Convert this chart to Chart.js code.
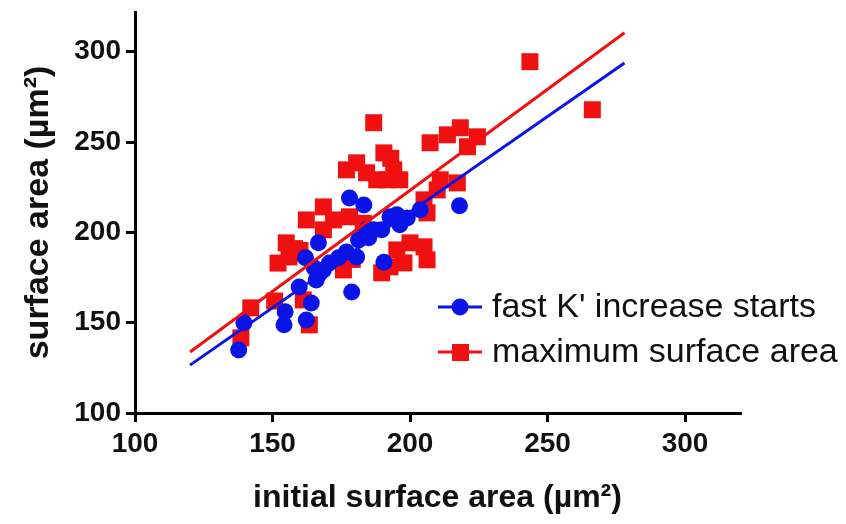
<!DOCTYPE html>
<html>
<head>
<meta charset="utf-8">
<script src="https://cdn.jsdelivr.net/npm/chart.js@4.4.1/dist/chart.umd.min.js"></script>
<style>
  html, body { margin: 0; padding: 0; background: #fff; }
  #wrap { width: 846px; height: 524px; }
</style>
</head>
<body>
<div id="wrap"><canvas id="grafico" width="846" height="524"></canvas></div>
<script>
// fast K' increase starts (blue circles)
const fastX = [137.7, 139.6, 154.2, 154.6, 162.3, 164.1, 159.7, 165.9, 168.5, 170.7,
               162.0, 178.8, 180.6, 190.5, 178.0, 183.2, 166.7, 186.8, 218.0, 203.7,
               192.7, 196.3, 189.7, 165.2, 176.9, 181.3, 184.2, 195.2, 167.0, 174.0,
               185.0, 199.0];
const fastY = [134.9, 149.9, 148.8, 156.0, 151.5, 160.9, 169.8, 173.7, 179.2, 183.1,
               186.0, 167.0, 186.4, 183.5, 219.0, 215.2, 194.2, 201.4, 214.7, 212.5,
               208.6, 204.2, 201.4, 180.3, 189.2, 195.8, 201.4, 209.7, 177.0, 186.0,
               197.0, 208.0];

// maximum surface area (red squares)
const maxX = [138.5, 142.1, 150.8, 163.4, 152.0, 156.0, 175.8, 189.7, 161.2, 186.8,
              176.9, 180.6, 184.2, 187.9, 190.5, 168.5, 162.3, 172.2, 168.5, 155.0,
              157.5, 178.0, 207.3, 213.6, 218.3, 224.5, 220.9, 193.0, 194.1, 191.6,
              196.3, 211.0, 217.2, 209.9, 205.1, 206.2, 200.0, 205.1, 206.2, 195.2,
              192.7, 197.8, 243.6, 266.3, 160.0, 179.0, 183.0, 158.0];
const maxY = [141.6, 158.2, 162.0, 148.8, 183.0, 186.4, 179.2, 177.6, 162.6, 260.7,
              234.6, 238.5, 233.0, 229.1, 244.0, 214.1, 206.9, 206.9, 201.4, 194.2,
              188.6, 208.6, 249.6, 254.0, 257.9, 252.9, 247.4, 241.0, 234.6, 229.1,
              229.1, 229.1, 227.4, 223.5, 218.0, 210.8, 194.2, 192.0, 184.8, 190.3,
              180.9, 183.1, 294.5, 267.9, 190.0, 185.0, 205.0, 191.0];

// linear fits
const fitX = [120, 278];
const fastFitY = [126.5, 293.8];
const maxFitY = [133.8, 310.5];

const xTicks = [100, 150, 200, 250, 300];
const yTicks = [100, 150, 200, 250, 300];

const AZUL = '#0a14e6';
const VERMELHO = '#f01010';
const FONTE = '"Liberation Sans", Arial, sans-serif';

function pares(xs, ys) {
    return xs.map((x, i) => ({ x: x, y: ys[i] }));
}

const legendaPlugin = {
    id: 'legendaManual',
    afterDraw(chart) {
        const ctx = chart.ctx;
        const itens = [
            { texto: "fast K' increase starts", cor: AZUL, estilo: 'circle', y: 307 },
            { texto: 'maximum surface area', cor: VERMELHO, estilo: 'rect', y: 352 }
        ];
        ctx.save();
        itens.forEach((item) => {
            ctx.strokeStyle = item.cor;
            ctx.fillStyle = item.cor;
            ctx.lineWidth = 3;
            ctx.beginPath();
            ctx.moveTo(438, item.y);
            ctx.lineTo(482, item.y);
            ctx.stroke();
            ctx.beginPath();
            if (item.estilo === 'circle') {
                ctx.arc(460, item.y, 8.5, 0, Math.PI * 2);
            } else {
                ctx.rect(452, item.y - 8, 17, 17);
            }
            ctx.fill();
            ctx.fillStyle = '#111';
            ctx.font = '34px ' + FONTE;
            ctx.textBaseline = 'middle';
            ctx.fillText(item.texto, 492, item.y + 1);
        });
        ctx.restore();
    }
};

const eixoComum = {
    type: 'linear',
    grid: { display: true, drawOnChartArea: false, drawTicks: true, tickLength: 9, color: '#000', lineWidth: 3 },
    border: { display: true, color: '#000', width: 3 },
    ticks: { color: '#111', padding: 5, font: { family: FONTE, size: 28, weight: 'bold' } }
};

new Chart(document.getElementById('grafico'), {
    data: {
        datasets: [
            {
                type: 'line',
                label: 'fit fast',
                data: pares(fitX, fastFitY),
                borderColor: AZUL,
                borderWidth: 3,
                pointRadius: 0,
                fill: false,
                order: 0
            },
            {
                type: 'line',
                label: 'fit max',
                data: pares(fitX, maxFitY),
                borderColor: VERMELHO,
                borderWidth: 3,
                pointRadius: 0,
                fill: false,
                order: 0
            },
            {
                type: 'scatter',
                label: "fast K' increase starts",
                data: pares(fastX, fastY),
                pointStyle: 'circle',
                pointRadius: 8.5,
                backgroundColor: AZUL,
                borderWidth: 0,
                order: 1
            },
            {
                type: 'scatter',
                label: 'maximum surface area',
                data: pares(maxX, maxY),
                pointStyle: 'rect',
                pointRadius: 12,
                backgroundColor: VERMELHO,
                borderWidth: 0,
                order: 2
            }
        ]
    },
    options: {
        responsive: false,
        animation: false,
        layout: { padding: { top: 0, right: 106, left: 0, bottom: 0 } },
        plugins: { legend: { display: false }, tooltip: { enabled: false } },
        scales: {
            x: {
                ...eixoComum,
                position: 'bottom',
                min: 100,
                max: 320,
                afterBuildTicks: (s) => { s.ticks = xTicks.map((v) => ({ value: v })); },
                afterFit: (s) => { s.height = 111; },
                title: {
                    display: true,
                    text: 'initial surface area (µm²)',
                    color: '#111',
                    font: { family: FONTE, size: 32, weight: 'bold' },
                    padding: { top: 0, bottom: 7 }
                }
            },
            y: {
                ...eixoComum,
                position: 'left',
                min: 100,
                max: 322,
                afterBuildTicks: (s) => { s.ticks = yTicks.map((v) => ({ value: v })); },
                afterFit: (s) => { s.width = 135; s.paddingTop = 10; },
                title: {
                    display: true,
                    text: 'surface area (µm²)',
                    color: '#111',
                    font: { family: FONTE, size: 34, weight: 'bold' },
                    padding: { top: 18, bottom: 0 }
                }
            }
        }
    },
    plugins: [legendaPlugin]
});
</script>
</body>
</html>
